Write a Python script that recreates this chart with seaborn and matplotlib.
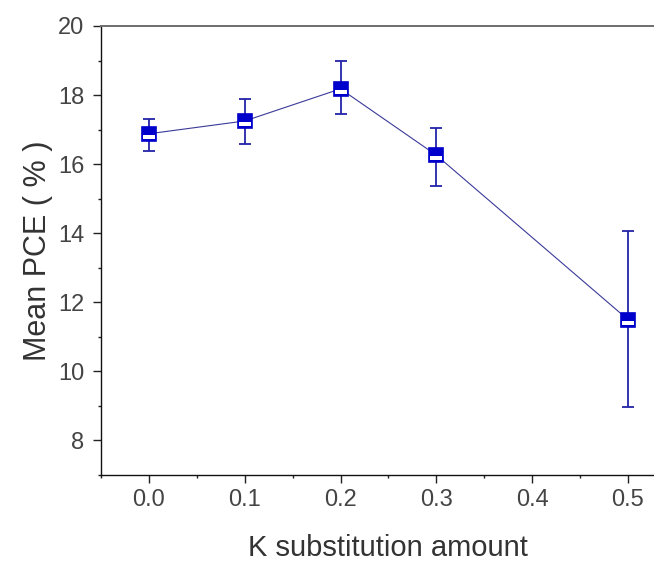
import matplotlib
matplotlib.use("Agg")
import matplotlib.pyplot as plt
import seaborn as sns
import pandas as pd
from matplotlib.ticker import MultipleLocator
from matplotlib.path import Path

k_amount = [0.0, 0.1, 0.2, 0.3, 0.5]
mean_pce = [16.88, 17.25, 18.18, 16.26, 11.5]
err_low = [16.38, 16.57, 17.45, 15.38, 8.97]
err_high = [17.30, 17.90, 18.98, 17.06, 14.07]
x_ticks = [0.0, 0.1, 0.2, 0.3, 0.4, 0.5]
x_tick_labels = ["0.0", "0.1", "0.2", "0.3", "0.4", "0.5"]
y_ticks = [8, 10, 12, 14, 16, 18, 20]

df = pd.DataFrame({"k": k_amount, "pce": mean_pce})

sns.set_style("ticks")
plt.rcParams['font.family'] = ['Liberation Sans', 'DejaVu Sans']

fig = plt.figure(figsize=(6.54, 5.69), dpi=100)
left_px, top_px, bottom_px = 101, 26, 475
unit_px = 958.0  # pixels per 1.0 on x
ax = fig.add_axes([left_px/654, (569-bottom_px)/569, 0.6*unit_px/654, (bottom_px-top_px)/569])

blue = "#0000cc"
yerr = [[m - l for m, l in zip(mean_pce, err_low)], [h - m for m, h in zip(mean_pce, err_high)]]
ax.errorbar(k_amount, mean_pce, yerr=yerr, fmt="none", ecolor="#2323a8", elinewidth=1.3, capsize=4.3, capthick=1.3, zorder=2)
sns.lineplot(data=df, x="k", y="pce", ax=ax, color="#3a3a9a", linewidth=0.8, zorder=3)

ms = 10
ax.plot(k_amount, mean_pce, linestyle="none", marker="s", markersize=ms,
        markerfacecolor=blue, markeredgecolor=blue, markeredgewidth=1.2, zorder=4)
# white strip inside the lower half of each square marker
strip = Path([(-0.4, -0.38), (0.4, -0.38), (0.4, -0.1), (-0.4, -0.1), (-0.4, -0.38)],
             [Path.MOVETO, Path.LINETO, Path.LINETO, Path.LINETO, Path.CLOSEPOLY])
ax.plot(k_amount, mean_pce, linestyle="none", marker=strip, markersize=ms * 0.4 / 0.5,
        markerfacecolor="white", markeredgewidth=0, zorder=5)

ax.set_xlim(-0.05, 0.55)
ax.set_ylim(7, 20)
ax.set_xticks(x_ticks)
ax.set_xticklabels(x_tick_labels)
ax.xaxis.set_minor_locator(MultipleLocator(0.05))
ax.set_yticks(y_ticks)
ax.yaxis.set_minor_locator(MultipleLocator(1))

ax.spines["right"].set_visible(False)
for s in ["left", "bottom"]:
    ax.spines[s].set_color("#111111")
    ax.spines[s].set_linewidth(1.0)
ax.spines["top"].set_color("#6e6e6e")
ax.spines["top"].set_linewidth(1.4)
ax.tick_params(which="major", direction="out", length=5.8, width=1.0, colors="#222222",
               labelcolor="#444444", labelsize=17)
ax.tick_params(axis="y", which="major", pad=6)
ax.tick_params(axis="x", which="major", pad=4)
ax.tick_params(which="minor", direction="out", length=2.5, width=1.0, colors="#222222")
ax.tick_params(top=False, right=False, which="both")

ax.set_xlabel("K substitution amount", fontsize=21, color="#333333", labelpad=17)
ax.set_ylabel("Mean PCE ( % )", fontsize=22, color="#333333", labelpad=4)

fig.savefig("out.png", dpi=100)
